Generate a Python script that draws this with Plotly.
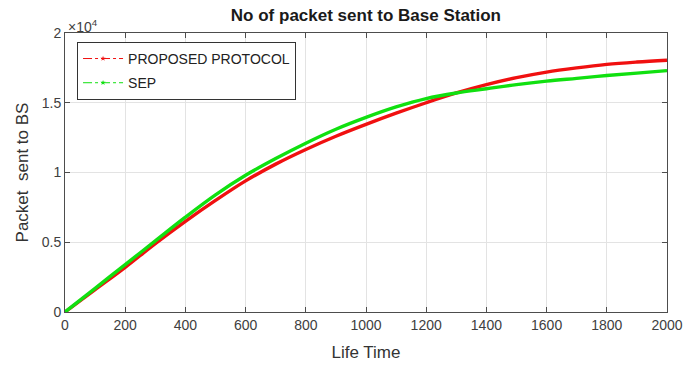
import plotly.graph_objects as go

life_time = [0, 100, 200, 300, 400, 500, 600, 700, 800, 900, 1000,
             1100, 1200, 1300, 1400, 1500, 1600, 1700, 1800, 1900, 2000]
proposed = [0, 1600, 3200, 4900, 6500, 8000, 9400, 10600, 11650, 12600, 13450,
            14250, 15000, 15700, 16300, 16800, 17200, 17500, 17750, 17920, 18050]
sep = [0, 1700, 3400, 5100, 6800, 8400, 9800, 11000, 12100, 13100, 13950,
       14700, 15300, 15700, 16000, 16300, 16550, 16750, 16950, 17120, 17300]
series_names = ["PROPOSED PROTOCOL", "SEP"]
y_tick_vals = [0, 5000, 10000, 15000, 20000]
y_tick_text = ["0", "0.5", "1", "1.5", "2"]
x_tick_vals = [0, 200, 400, 600, 800, 1000, 1200, 1400, 1600, 1800, 2000]

RED = "#f01010"
GREEN = "#10e010"
FONT = "Arial, Liberation Sans, sans-serif"

fig = go.Figure()
for i, (name, vals, col) in enumerate([(series_names[0], proposed, RED), (series_names[1], sep, GREEN)]):
    fig.add_trace(go.Scatter(x=life_time, y=vals, mode="lines", line=dict(color=col, width=3.4, shape="spline"),
                             showlegend=False, hoverinfo="skip"))
    fig.add_trace(go.Scatter(x=[None], y=[None], mode="lines+markers", name=name, legendgroup="g%d" % i,
                             line=dict(color=col, width=1, dash="dashdot"),
                             marker=dict(color=col, size=4, symbol="star")))

axis_common = dict(showline=True, linecolor="#4d4d4d", linewidth=1, mirror="ticks",
                   ticks="inside", ticklen=5, tickcolor="#4d4d4d", automargin=False,
                   showgrid=True, gridcolor="#e3e3e3", gridwidth=1, zeroline=False,
                   tickfont=dict(family=FONT, size=14, color="#404040"))

fig.update_layout(
    width=684, height=365,
    margin=dict(l=65, r=17, t=33, b=53),
    paper_bgcolor="white", plot_bgcolor="white",
    title=dict(text="<b>No of packet sent to Base Station</b>", x=0.535, xanchor="center", xref="container",
               y=1 - 15 / 365, yanchor="middle", yref="container",
               font=dict(family=FONT, size=17, color="#1a1a1a")),
    xaxis=dict(range=[0, 2000], tickvals=x_tick_vals,
               title=dict(text="Life Time", font=dict(family=FONT, size=17, color="#333333"), standoff=14),
               **axis_common),
    yaxis=dict(range=[0, 20000], tickvals=y_tick_vals, ticktext=y_tick_text,
               title=dict(text="Packet\u00a0 sent to BS", font=dict(family=FONT, size=17, color="#333333"), standoff=8),
               **axis_common),
    legend=dict(x=0.02, y=0.968, xanchor="left", yanchor="top", bgcolor="white",
                bordercolor="#333333", borderwidth=1, itemwidth=40,
                font=dict(family=FONT, size=14, color="#222222"), tracegroupgap=3),
    annotations=[dict(text="\u00d710<sup>4</sup>", x=0, y=1.0, xref="paper", yref="paper",
                      xanchor="left", yanchor="bottom", showarrow=False, xshift=1, yshift=-4,
                      font=dict(family=FONT, size=14, color="#404040"))],
)

fig.write_html("out.html", config={"displayModeBar": False},
               post_script="document.body.style.margin='0';document.body.style.overflow='hidden';")
